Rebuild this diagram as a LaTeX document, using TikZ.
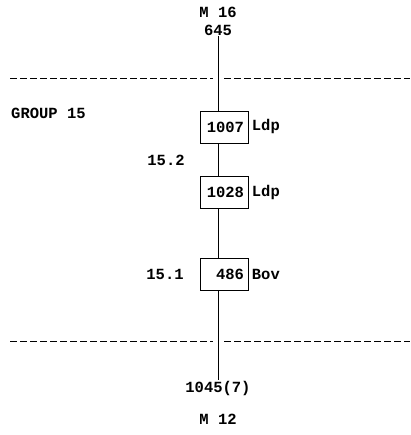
\documentclass[tikz,border=0pt]{standalone}
\usepackage{fontspec}
\setmonofont{Liberation Mono}
\usepackage{tikz}
\tikzset{mybox/.style={draw,thick,text width=40pt,align=right,minimum height=32pt,inner sep=4pt} }
\tikzset{mydash/.style={dash pattern=on 7pt off 3pt,thick} }
\usetikzlibrary{positioning}

\begin{document}
\begin{tikzpicture}[x=1pt,y=1pt,font=\ttfamily\bfseries\fontsize{15.5}{17}\selectfont]
    \useasboundingbox (0,0) rectangle (410,435);
    \node (m16) at (218,423) {M 16};
    \node[inner sep=1pt] (top) at (218,405) {645};
    \node[anchor=west,inner sep=0pt] (grp) at (11,322) {GROUP 15};
    \node[mybox] (b1007) at (224,308) {1007};
    \node[right=0pt of b1007] (l1007) {Ldp};
    \node (s152) at (166,275) {15.2};
    \node[mybox] (b1028) at (224,243) {1028};
    \node[right=0pt of b1028] (l1028) {Ldp};
    \node[mybox] (b486) at (224,161) {486};
    \node[right=0pt of b486] (l486) {Bov};
    \node (s151) at (165,161) {15.1};
    \node[inner sep=1pt] (bot) at (218,47) {1045(7)};
    \node (m12) at (218,16) {M 12};
    \coordinate (tl) at (10,357);
    \coordinate (tr) at (410,357);
    \coordinate (bl) at (10,94);
    \coordinate (br) at (410,94);
    \draw[mydash] (tl) -- (213,357);
    \draw[mydash] (224,357) -- (tr);
    \draw[mydash] (bl) -- (213,94);
    \draw[mydash] (224,94) -- (br);
    \draw[thick] (top.south) -- (top.south |- b1007.north);
    \draw[thick] (top.south |- b1007.south) -- (top.south |- b1028.north);
    \draw[thick] (top.south |- b1028.south) -- (top.south |- b486.north);
    \draw[thick] (top.south |- b486.south) -- (bot.north);
\end{tikzpicture}
\end{document}
